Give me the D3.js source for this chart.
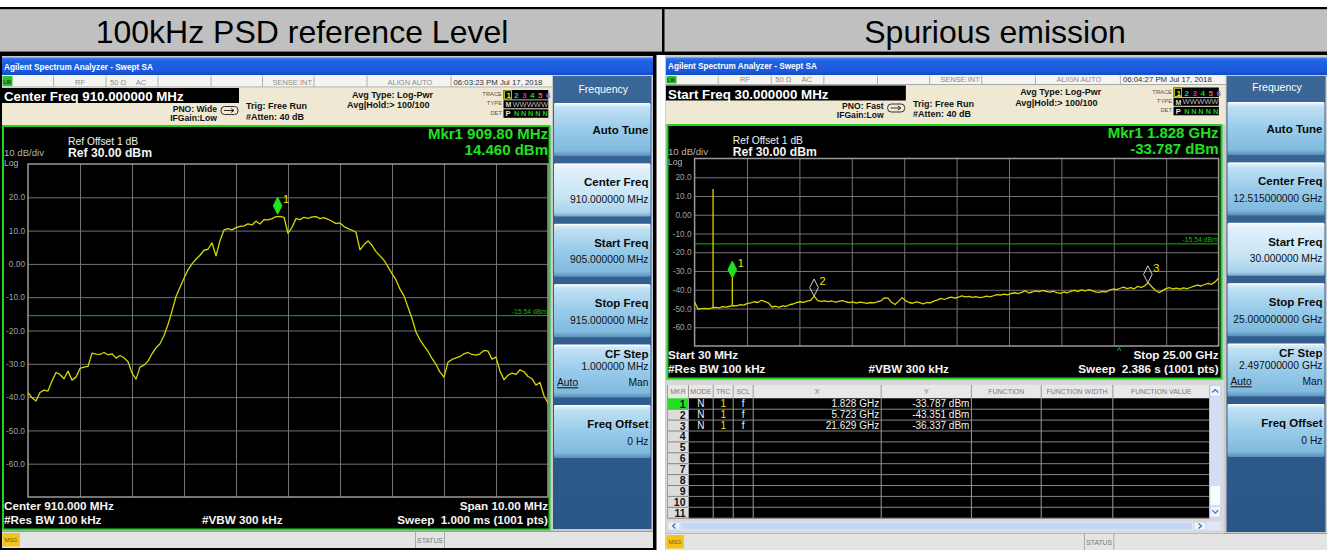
<!DOCTYPE html>
<html>
<head>
<meta charset="utf-8">
<script src="https://cdn.jsdelivr.net/npm/d3@7"></script>
<style>
  html, body { margin: 0; padding: 0; background: #fff; }
  svg { display: block; }
</style>
</head>
<body>
<svg id="chart" width="1327" height="550"></svg>
<script>
// ---------------- data ----------------
const panelTitles = ["100kHz PSD reference Level", "Spurious emission"];

const yTickValues = [20, 10, 0, -10, -20, -30, -40, -50, -60];
const yTickLabels = ["20.0", "10.0", "0.00", "-10.0", "-20.0", "-30.0", "-40.0", "-50.0", "-60.0"];
const refLevel = 30;
const bottomLevel = -70;
const displayLine = -15.54;

// 100 kHz PSD sweep, 905–915 MHz (evenly spaced trace points, dBm)
const psdStartMHz = 905, psdStopMHz = 915;
const psdTrace = [
  -38.7, -40.2, -41.2, -38.6, -37.9, -38.2, -35.2, -32.6, -33.2, -34.5,
  -32.2, -34.9, -34.0, -31.4, -31.0, -30.8, -26.8, -27.1, -27.2, -26.6,
  -27.3, -27.0, -28.3, -27.5, -28.2, -29.4, -32.8, -34.6, -31.0, -30.4,
  -29.2, -27.0, -25.2, -24.0, -21.5, -18.2, -14.2, -9.8, -7.0, -4.3,
  -1.8, 0.0, 1.4, 2.6, 4.1, 4.4, 6.3, 2.4, 7.0, 10.2,
  10.6, 10.2, 10.9, 11.3, 11.4, 12.0, 11.7, 12.8, 12.0, 13.3,
  13.2, 13.6, 14.2, 14.3, 14.0, 9.2, 11.0, 13.6, 13.3, 14.0,
  13.7, 14.1, 14.2, 13.6, 13.9, 13.4, 12.8, 12.1, 12.3, 11.2,
  10.6, 10.1, 9.5, 4.2, 5.8, 6.9, 5.6, 3.7, 2.4, 1.1,
  -0.9, -2.9, -4.8, -7.6, -9.6, -13.0, -16.4, -20.5, -22.8, -24.6,
  -26.3, -28.4, -30.2, -32.5, -34.0, -29.5, -28.7, -28.2, -27.8, -27.0,
  -26.6, -27.2, -27.4, -27.0, -26.0, -26.2, -28.6, -28.0, -32.2, -34.8,
  -33.4, -32.8, -33.2, -31.8, -32.4, -33.8, -34.5, -36.4, -35.6, -39.6,
  -41.8
];
const psdMarkerMHz = 909.80;
const psdMarkerLevel = 14.460;

// Spurious sweep, 30 MHz – 25 GHz (evenly spaced trace points, dBm)
const spurStartGHz = 0.03, spurStopGHz = 25;
const spurTrace = [
  -46.5, -50.4, -50.1, -49.9, -50.2, -49.6, -49.4, -49.7, -49.0, -49.3,
  -48.8, -48.5, -48.6, -47.9, -48.2, -47.3, -47.0, -46.4, -46.8, -45.6,
  -46.3, -47.0, -49.2, -48.8, -49.4, -48.6, -48.9, -48.0, -47.6, -46.9,
  -46.4, -46.7, -46.1, -45.7, -43.4, -45.8, -46.2, -45.9, -46.3, -46.0,
  -46.6, -46.2, -45.8, -46.4, -46.9, -46.5, -47.1, -46.6, -46.9, -47.3,
  -46.8, -47.0, -46.4, -45.9, -44.3, -44.5, -46.7, -47.9, -46.2, -44.2,
  -45.9, -46.8, -47.2, -46.5, -46.9, -47.5, -46.8, -47.0, -46.1, -45.5,
  -44.6, -45.2, -44.4, -43.9, -44.5, -44.0, -43.3, -43.8, -43.5, -44.1,
  -43.7, -44.2, -43.9, -43.4, -43.8, -43.2, -42.6, -42.9, -42.3, -42.7,
  -42.0, -41.6, -42.1, -41.4, -40.5, -41.7, -41.2, -40.6, -41.0, -40.4,
  -40.9, -41.3, -40.8, -41.5, -41.9, -41.2, -41.6, -40.7, -40.3, -40.9,
  -40.1, -40.6, -40.0, -40.5, -41.1, -41.4, -40.9, -41.2, -40.2, -39.6,
  -39.9, -39.2, -38.6, -39.4, -38.9, -39.5, -38.2, -38.8, -37.9, -36.3,
  -38.4, -40.3, -41.5, -40.6, -39.4, -38.9, -39.6, -39.1, -39.7, -39.0,
  -39.4, -38.8, -38.1, -37.5, -38.0, -37.2, -36.6, -37.1, -35.8, -33.8
];
// narrow spectral lines: carrier and 2nd harmonic
const spurSpikeGHz = [0.910, 1.828];
const spurSpikePeak = [13.7, -33.787];
const spurSpikeBase = [-49.5, -48.6];

const spurMarkerGHz = [1.828, 5.723, 21.629];
const spurMarkerLevel = [-33.787, -43.351, -36.337];

const softkeyTitles = ["Auto Tune", "Center Freq", "Start Freq", "Stop Freq", "CF Step", "Freq Offset"];
const psdSoftkeyValues = ["", "910.000000 MHz", "905.000000 MHz", "915.000000 MHz", "1.000000 MHz", "0 Hz"];
const spurSoftkeyValues = ["", "12.515000000 GHz", "30.000000 MHz", "25.000000000 GHz", "2.497000000 GHz", "0 Hz"];

const tableHeads = ["MKR", "MODE", "TRC", "SCL", "X", "Y", "FUNCTION", "FUNCTION WIDTH", "FUNCTION VALUE"];

// ---------------- helpers ----------------
const FONT = "'Liberation Sans', Arial, Helvetica, sans-serif";
const svg = d3.select("#chart");
const defs = svg.append("defs");

function vgrad(id, stops) {
  const gr = defs.append("linearGradient").attr("id", id)
    .attr("x1", 0).attr("y1", 0).attr("x2", 0).attr("y2", 1);
  stops.forEach(([o, c]) => gr.append("stop").attr("offset", o).attr("stop-color", c));
}
vgrad("titleBar", [[0, "#3f7ef2"], [0.2, "#2162e4"], [0.8, "#1a59dc"], [1, "#1049c6"]]);
vgrad("softkey", [[0, "#eaf5fc"], [0.1, "#bfe0f3"], [0.5, "#98cbea"], [0.9, "#80bade"], [1, "#5a8fb8"]]);
vgrad("softkeySel", [[0, "#f6fbfe"], [0.1, "#e0f0fa"], [0.6, "#c9e6f6"], [0.92, "#a9d2ec"], [1, "#7aa8c8"]]);
vgrad("skPanel", [[0, "#3a6698"], [1, "#2b5788"]]);

function txt(g, x, y, s, o = {}) {
  const t = g.append("text").attr("x", x).attr("y", y).text(s)
    .attr("font-family", FONT)
    .attr("font-size", o.size || 10)
    .attr("font-weight", o.bold ? "bold" : "normal")
    .attr("fill", o.fill || "#000")
    .attr("text-anchor", o.anchor || "start")
    .style("white-space", "pre");
  if (o.deco) t.attr("text-decoration", o.deco);
  if (o.len) t.attr("textLength", o.len).attr("lengthAdjust", "spacingAndGlyphs");
  return t;
}
function box(g, x, y, w, h, fill, o = {}) {
  const r = g.append("rect").attr("x", x).attr("y", y).attr("width", w).attr("height", h).attr("fill", fill);
  if (o.stroke) r.attr("stroke", o.stroke).attr("stroke-width", o.sw || 1);
  if (o.rx) r.attr("rx", o.rx);
  return r;
}
function hline(g, x0, x1, y, c, w = 1) {
  g.append("line").attr("x1", x0).attr("x2", x1).attr("y1", y).attr("y2", y).attr("stroke", c).attr("stroke-width", w);
}
function vline(g, x, y0, y1, c, w = 1) {
  g.append("line").attr("x1", x).attr("x2", x).attr("y1", y0).attr("y2", y1).attr("stroke", c).attr("stroke-width", w);
}

// ---------------- page heading row ----------------
box(svg, 0, 0, 1327, 550, "#fff");
box(svg, 0, 7, 1327, 2.5, "#000");
box(svg, 0, 9.5, 1327, 42, "#c0c0c0");
box(svg, 0, 51.5, 1327, 3.5, "#000");
box(svg, 662, 7, 2.5, 48, "#000");
txt(svg, 302, 43, panelTitles[0], { size: 32, anchor: "middle", fill: "#000" });
txt(svg, 995, 43, panelTitles[1], { size: 32, anchor: "middle", fill: "#000" });

// black frame around left analyzer screen
box(svg, 0, 55, 656.5, 495, "#000");

const TRACE_COLOR = "#d6d600";

function diamond(g, x, tipY, filled) {
  const w = 4.3, h = 17;
  g.append("path")
    .attr("d", `M${x},${tipY} L${x + w},${tipY - h / 2} L${x},${tipY - h} L${x - w},${tipY - h / 2} Z`)
    .attr("fill", filled ? "#22e022" : "none")
    .attr("stroke", filled ? "#22e022" : "#cfcfcf")
    .attr("stroke-width", 1);
}

// ---------------- one analyzer screen ----------------
function drawPanel(p) {
  const g = svg.append("g");
  const X = r => p.ox + r * p.sx;
  const dy = p.hdy;

  box(g, p.base.x0, p.base.y0, p.base.x1 - p.base.x0, p.base.y1 - p.base.y0, "#cbcbcb");

  // window title bar
  box(g, p.ox, 57.5, p.right - p.ox, 17.5, "url(#titleBar)");
  txt(g, X(2), 70 + dy * 0.5, "Agilent Spectrum Analyzer - Swept SA", { size: 8.2, bold: true, fill: "#fff" });

  // status row
  const srY0 = 75, srY1 = 87 + dy;
  box(g, p.ox, srY0, p.sk.x0 - 1 - p.ox, srY1 - srY0, "#f4f4f1");
  hline(g, p.ox, p.sk.x0 - 1, srY1, "#a8a8a8");
  [51.6, 104, 156, 209, 260.5, 312, 365, 449].forEach(c => vline(g, X(c), srY0 + 0.5, srY1, "#b0b0b0"));
  box(g, X(0.5), srY0 + 1, 10, srY1 - srY0 - 2, "#2fbf2f");
  txt(g, X(1.2), srY1 - 3, "LXI", { size: 5, bold: true, fill: "#0a3a0a" });
  const sy = 84.5 + dy;
  txt(g, X(78), sy, "RF", { size: 7.5, fill: "#8c8c8c", anchor: "middle" });
  txt(g, X(116), sy, "50 \u03A9", { size: 7.5, fill: "#8c8c8c", anchor: "middle" });
  txt(g, X(139), sy, "AC", { size: 7.5, fill: "#8c8c8c", anchor: "middle" });
  txt(g, X(310), sy, "SENSE:INT", { size: 7.5, fill: "#8c8c8c", anchor: "end" });
  txt(g, X(408), sy, "ALIGN AUTO", { size: 7.5, fill: "#8c8c8c", anchor: "middle" });
  txt(g, X(451.5), sy, p.time, { size: 7.8, fill: "#303030" });

  // settings header
  box(g, p.ox, srY1 + 0.5, p.sk.x0 - 1 - p.ox, p.plot.y0 - srY1 - 0.5, "#efe9d4");
  box(g, X(0), 88 + dy, X(237) - X(0), 15, "#000");
  txt(g, X(2), 101 + dy, p.activeFn, { size: 13.3, bold: true, fill: "#fff" });
  txt(g, X(215), 111.7 + dy, p.pno, { size: 8.6, bold: true, anchor: "end", fill: "#111" });
  txt(g, X(215), 120.7 + dy, "IFGain:Low", { size: 8.6, bold: true, anchor: "end", fill: "#111" });
  box(g, X(219), 106.5 + dy, 17, 8, "none", { stroke: "#333", sw: 1, rx: 3.5 });
  g.append("path").attr("d", `M${X(222)},${110.5 + dy} L${X(232)},${110.5 + dy} M${X(229)},${108.5 + dy} L${X(232)},${110.5 + dy} L${X(229)},${112.5 + dy}`)
    .attr("stroke", "#333").attr("fill", "none").attr("stroke-width", 1);
  txt(g, X(244), 109 + dy, "Trig: Free Run", { size: 9, bold: true, fill: "#111" });
  txt(g, X(244), 119.5 + dy, "#Atten: 40 dB", { size: 9, bold: true, fill: "#111" });
  txt(g, X(350), 97.7 + dy, "Avg Type: Log-Pwr", { size: 9, bold: true, fill: "#111" });
  txt(g, X(345), 108 + dy, "Avg|Hold:> 100/100", { size: 9, bold: true, fill: "#111" });

  // trace status block
  txt(g, X(500), 96 + dy, "TRACE", { size: 5.8, fill: "#555", anchor: "end" });
  txt(g, X(500), 105.4 + dy, "TYPE", { size: 5.8, fill: "#555", anchor: "end" });
  txt(g, X(500), 114.8 + dy, "DET", { size: 5.8, fill: "#555", anchor: "end" });
  box(g, X(501.5), 90 + dy, X(546.3) - X(501.5), 9.5, "#000");
  box(g, X(501.5), 100.3 + dy, X(546.3) - X(501.5), 8, "#000");
  box(g, X(501.5), 109.3 + dy, X(546.3) - X(501.5), 8.5, "#000");
  const trCols = ["#e8e800", "#19c8d8", "#d424d4", "#2fc02f", "#e85858", "#6262ff"];
  trCols.forEach((c, k) => txt(g, X(504.4 + k * 7.9), 98 + dy, String(k + 1), { size: 8, bold: true, fill: c }));
  box(g, X(502.6), 90.8 + dy, 7, 8.2, "none", { stroke: "#e8e800", sw: 0.8 });
  txt(g, X(503.4), 107 + dy, "M", { size: 7, bold: true, fill: "#d8d8d8" });
  txt(g, X(510.5), 106.6 + dy, "WWWWW", { size: 6.5, fill: "#b8b8b8", len: X(546) - X(510.5) });
  txt(g, X(503.6), 116.4 + dy, "P", { size: 7.5, bold: true, fill: "#e8e8e8" });
  [514, 521, 528, 535.3, 542.4].forEach(c => txt(g, X(c - 2), 116.4 + dy, "N", { size: 7.3, bold: true, fill: "#22c822" }));

  // measurement window
  box(g, p.plot.x0, p.plot.y0, p.plot.x1 - p.plot.x0, p.plot.y1 - p.plot.y0, "#000", { stroke: "#1fd41f", sw: 2 });
  txt(g, p.grat.x1, p.plot.y0 + 13.3, p.mkr1, { size: 15, bold: true, fill: "#22e022", anchor: "end" });
  txt(g, p.grat.x1, p.plot.y0 + 29, p.mkr2, { size: 15, bold: true, fill: "#22e022", anchor: "end" });
  txt(g, X(66), p.plot.y0 + 19.3, "Ref Offset 1 dB", { size: 10.3, fill: "#f0f0f0" });
  txt(g, X(66), p.plot.y0 + 30.5, "Ref 30.00 dBm", { size: 12.2, bold: true, fill: "#f4f4f4" });
  txt(g, X(2), p.plot.y0 + 29.8, "10 dB/div", { size: 9.6, fill: "#b4b4b4" });
  txt(g, X(2), p.plot.y0 + 40.4, "Log", { size: 8.6, fill: "#b4b4b4" });

  const gr = p.grat;
  const xScale = d3.scaleLinear().domain(p.xDomain).range([gr.x0, gr.x1]);
  const yScale = d3.scaleLinear().domain([bottomLevel, refLevel]).range([gr.y1, gr.y0]);
  const d0 = p.xDomain[0], d1 = p.xDomain[1];

  const xGrid = d3.axisBottom(xScale)
    .tickValues(d3.range(1, 10).map(k => d0 + k * (d1 - d0) / 10))
    .tickSize(-(gr.y1 - gr.y0)).tickFormat("");
  const gx = g.append("g").attr("transform", `translate(0,${gr.y1})`).call(xGrid);
  gx.select(".domain").remove();
  gx.selectAll("line").attr("stroke", "#737373").attr("stroke-width", 1);

  const yAxis = d3.axisLeft(yScale)
    .tickValues(yTickValues)
    .tickFormat((d, i) => yTickLabels[i])
    .tickSize(-(gr.x1 - gr.x0)).tickPadding(3);
  const gy = g.append("g").attr("transform", `translate(${gr.x0},0)`).call(yAxis);
  gy.select(".domain").remove();
  gy.selectAll("line").attr("stroke", "#737373").attr("stroke-width", 1);
  gy.selectAll("text").attr("fill", "#a2a2a2").attr("font-size", 8.3).attr("font-family", FONT);

  box(g, gr.x0, gr.y0, gr.x1 - gr.x0, gr.y1 - gr.y0, "none", { stroke: "#9a9a9a", sw: 1.5 });

  // display line
  const dlY = yScale(displayLine);
  hline(g, gr.x0, gr.x1, dlY, "#10b410", 1);
  txt(g, gr.x1 - 1, dlY - 2, `${displayLine.toFixed(2)} dBm`, { size: 6.8, fill: "#14b814", anchor: "end" });

  // trace
  const clipId = "clip" + p.id;
  defs.append("clipPath").attr("id", clipId).append("rect")
    .attr("x", gr.x0).attr("y", gr.y0 - 1).attr("width", gr.x1 - gr.x0).attr("height", gr.y1 - gr.y0 + 1);
  const n = p.trace.length;
  const line = d3.line()
    .x((d, i) => xScale(d0 + i * (d1 - d0) / (n - 1)))
    .y(d => yScale(d));
  const tg = g.append("g").attr("clip-path", `url(#${clipId})`);
  tg.append("path").datum(p.trace).attr("d", line)
    .attr("fill", "none").attr("stroke", TRACE_COLOR).attr("stroke-width", 1.3).attr("stroke-linejoin", "round");
  if (p.spikes) {
    p.spikes.freq.forEach((f, i) => {
      tg.append("line")
        .attr("x1", xScale(f)).attr("x2", xScale(f))
        .attr("y1", yScale(p.spikes.base[i])).attr("y2", yScale(p.spikes.peak[i]))
        .attr("stroke", TRACE_COLOR).attr("stroke-width", 1.3);
    });
  }

  // markers
  p.markers.freq.forEach((f, i) => {
    const mx = xScale(f), my = yScale(p.markers.level[i]) - (p.markers.lift || 0);
    diamond(g, mx, my, i === 0);
    txt(g, mx + 5.5, my - 11, String(i + 1), { size: 11, fill: "#e6e600" });
  });

  // bottom annotation
  txt(g, X(2), gr.y1 + 12.5, p.startLabel, { size: 11.7, bold: true, fill: "#f4f4f4" });
  txt(g, X(2), gr.y1 + 26.5, "#Res BW 100 kHz", { size: 11.7, bold: true, fill: "#f4f4f4" });
  txt(g, X(200), gr.y1 + 26.5, "#VBW 300 kHz", { size: 11.7, bold: true, fill: "#f4f4f4" });
  txt(g, gr.x1, gr.y1 + 12.5, p.stopLabel, { size: 11.7, bold: true, fill: "#f4f4f4", anchor: "end" });
  txt(g, gr.x1, gr.y1 + 26.5, p.sweep, { size: 11.7, bold: true, fill: "#f4f4f4", anchor: "end" });
  if (p.caretX) txt(g, p.caretX, gr.y1 + 8, "^", { size: 9, fill: "#22d822", anchor: "middle" });

  // softkey menu
  const sk = p.sk;
  box(g, sk.x0, 76, sk.x1 - sk.x0, sk.y1 - 76, "url(#skPanel)");
  txt(g, (sk.x0 + sk.x1) / 2 + 1, 92.5 + dy * 0.6, "Frequency", { size: 10.5, fill: "#fff", anchor: "middle" });
  softkeyTitles.forEach((title, i) => {
    const top = 103 + i * 60.4 + dy * 0.4, h = 53;
    box(g, sk.x0 + 1, top, sk.x1 - sk.x0 - 2, h, i === p.selKey ? "url(#softkeySel)" : "url(#softkey)", { rx: 1.5 });
    hline(g, sk.x0 + 1.5, sk.x1 - 1.5, top + 0.8, "#ffffff", 1);
    const rx = sk.x1 - 3;
    const val = p.skValues[i];
    if (!val) {
      txt(g, rx, top + 31, title, { size: 11.5, bold: true, fill: "#0a0a0a", anchor: "end" });
    } else if (title === "CF Step") {
      txt(g, rx, top + 13.5, title, { size: 11.5, bold: true, fill: "#0a0a0a", anchor: "end" });
      txt(g, rx, top + 25.2, val, { size: 10.3, fill: "#111", anchor: "end" });
      txt(g, sk.x0 + 4, top + 41.7, "Auto", { size: 10.3, fill: "#111", deco: "underline" });
      txt(g, rx, top + 41.7, "Man", { size: 10.3, fill: "#111", anchor: "end" });
    } else {
      txt(g, rx, top + 23, title, { size: 11.5, bold: true, fill: "#0a0a0a", anchor: "end" });
      txt(g, rx, top + 39.6, val, { size: 10.3, fill: "#111", anchor: "end" });
    }
  });

  // message/status bar
  const st = p.status;
  box(g, p.ox, st.y0, st.x1 - p.ox, st.y1 - st.y0, "#e4e4e4");
  hline(g, p.ox, st.x1, st.y0, "#9c9c9c");
  box(g, X(0.3), st.y0 + 1.5, 17.5, st.y1 - st.y0 - 3, "#f2c41a");
  txt(g, X(0.3) + 8.7, st.y0 + 10.5, "MSG", { size: 5.8, fill: "#7a5800", anchor: "middle" });
  vline(g, X(413.5), st.y0, st.y1, "#a8a8a8");
  vline(g, X(442.5), st.y0, st.y1, "#a8a8a8");
  txt(g, X(428), st.y0 + 11, "STATUS", { size: 6.8, fill: "#777", anchor: "middle" });

  return { g, xScale, yScale };
}

// ---------------- marker table (spurious screen) ----------------
function drawMarkerTable(g) {
  const cols = [667.5, 688.5, 713.2, 733.2, 753.2, 881.2, 971.4, 1041.2, 1112.8, 1209.5];
  const tx1 = 1221, hy0 = 385, hy1 = 398.3, rowH = 10.9, nRows = 11;
  const by1 = hy1 + nRows * rowH;
  box(g, 666, 380.5, 1224 - 666, 153, "#d8d8d8");
  box(g, cols[0], hy0, cols[9] - cols[0], hy1 - hy0, "#e8e8e8");
  tableHeads.forEach((h, i) => txt(g, (cols[i] + cols[i + 1]) / 2, hy0 + 9.3, h, { size: 7, fill: "#7a7a7a", anchor: "middle" }));
  box(g, cols[1], hy1, cols[9] - cols[1], by1 - hy1, "#000");
  box(g, cols[0], hy1, cols[1] - cols[0], by1 - hy1, "#dcdcdc");
  box(g, cols[0], hy1, cols[1] - cols[0], rowH, "#22e022");
  for (let r = 0; r < nRows; r++) {
    const y0 = hy1 + r * rowH;
    txt(g, cols[1] - 3, y0 + 9.4, String(r + 1), { size: 10.5, bold: true, fill: "#111", anchor: "end" });
    hline(g, cols[0], cols[9], y0 + rowH, "#858585", 1);
  }
  cols.forEach(c => vline(g, c, hy0, by1, "#9a9a9a", 1));
  spurMarkerGHz.forEach((f, i) => {
    const y0 = hy1 + i * rowH + 9;
    txt(g, (cols[1] + cols[2]) / 2, y0, "N", { size: 10, fill: "#f2f2f2", anchor: "middle" });
    txt(g, (cols[2] + cols[3]) / 2, y0, "1", { size: 10, fill: "#e6e600", anchor: "middle" });
    txt(g, (cols[3] + cols[4]) / 2, y0, "f", { size: 10, fill: "#f2f2f2", anchor: "middle" });
    txt(g, cols[5] - 2, y0, `${f.toFixed(3)} GHz`, { size: 10, fill: "#f2f2f2", anchor: "end" });
    txt(g, cols[6] - 2, y0, `${spurMarkerLevel[i].toFixed(3)} dBm`, { size: 10, fill: "#f2f2f2", anchor: "end" });
  });
  // vertical scrollbar
  box(g, cols[9], hy0, tx1 - cols[9], by1 - hy0, "#d3ddf3");
  box(g, cols[9] + 0.5, hy0 + 0.5, tx1 - cols[9] - 1, 11, "#eef3fc", { stroke: "#b8c6e6", sw: 0.6 });
  box(g, cols[9] + 0.5, by1 - 12, tx1 - cols[9] - 1, 11, "#eef3fc", { stroke: "#b8c6e6", sw: 0.6 });
  box(g, cols[9] + 1, by1 - 32, tx1 - cols[9] - 2, 19, "#fbfcff");
  const cx = (cols[9] + tx1) / 2;
  g.append("path").attr("d", `M${cx - 3},${hy0 + 7.5} L${cx},${hy0 + 4.5} L${cx + 3},${hy0 + 7.5}`).attr("stroke", "#4a6aa8").attr("fill", "none").attr("stroke-width", 1.2);
  g.append("path").attr("d", `M${cx - 3},${by1 - 8} L${cx},${by1 - 5} L${cx + 3},${by1 - 8}`).attr("stroke", "#4a6aa8").attr("fill", "none").attr("stroke-width", 1.2);
  // horizontal scrollbar
  const sy0 = 521.5, sy1 = 530.5;
  box(g, cols[0], sy0, tx1 - cols[0], sy1 - sy0, "#dfe7f8");
  box(g, cols[0] + 0.5, sy0 + 0.5, 12, sy1 - sy0 - 1, "#eef3fc", { stroke: "#b8c6e6", sw: 0.6 });
  box(g, 1194, sy0 + 0.5, 12, sy1 - sy0 - 1, "#eef3fc", { stroke: "#b8c6e6", sw: 0.6 });
  box(g, cols[0] + 14, sy0 + 1, 1192 - cols[0] - 14, sy1 - sy0 - 2, "#c6d7f5", { rx: 2 });
  g.append("path").attr("d", `M${cols[0] + 8},${sy0 + 2} L${cols[0] + 5},${sy0 + 4.5} L${cols[0] + 8},${sy0 + 7}`).attr("stroke", "#4a6aa8").attr("fill", "none").attr("stroke-width", 1.2);
  g.append("path").attr("d", `M${1198.5},${sy0 + 2} L${1201.5},${sy0 + 4.5} L${1198.5},${sy0 + 7}`).attr("stroke", "#4a6aa8").attr("fill", "none").attr("stroke-width", 1.2);
}

// ---------------- draw both screens ----------------
const psdCenter = (psdStartMHz + psdStopMHz) / 2;
const psdSpan = psdStopMHz - psdStartMHz;

drawPanel({
  id: "psd", ox: 2, sx: 1, right: 653, hdy: 0,
  base: { x0: 2, y0: 56, x1: 653, y1: 548 },
  activeFn: "Center Freq 910.000000 MHz", pno: "PNO: Wide", time: "06:03:23 PM Jul 17, 2018",
  mkr1: `Mkr1 ${psdMarkerMHz.toFixed(2)} MHz`, mkr2: `${psdMarkerLevel.toFixed(3)} dBm`,
  plot: { x0: 3, x1: 549.5, y0: 126, y1: 529.5 },
  grat: { x0: 28, x1: 548, y0: 164, y1: 497 },
  xDomain: [psdStartMHz, psdStopMHz], trace: psdTrace,
  markers: { freq: [psdMarkerMHz], level: [psdMarkerLevel], lift: 1.5 },
  startLabel: `Center ${psdCenter.toFixed(3)} MHz`, stopLabel: `Span ${psdSpan.toFixed(2)} MHz`,
  sweep: "Sweep  1.000 ms (1001 pts)",
  sk: { x0: 553, x1: 651.5, y1: 529 }, skValues: psdSoftkeyValues, selKey: 1,
  status: { y0: 531.5, y1: 548, x1: 653 }
});

const spur = drawPanel({
  id: "spur", ox: 666, sx: 1.012, right: 1327, hdy: -2.5,
  base: { x0: 665, y0: 55, x1: 1327, y1: 550 },
  activeFn: "Start Freq 30.000000 MHz", pno: "PNO: Fast", time: "06:04:27 PM Jul 17, 2018",
  mkr1: `Mkr1 ${spurMarkerGHz[0].toFixed(3)} GHz`, mkr2: `${spurMarkerLevel[0].toFixed(3)} dBm`,
  plot: { x0: 667.5, x1: 1221.5, y0: 125, y1: 378.5 },
  grat: { x0: 694.6, x1: 1218.6, y0: 158.5, y1: 346 },
  xDomain: [spurStartGHz, spurStopGHz], trace: spurTrace,
  spikes: { freq: spurSpikeGHz, base: spurSpikeBase, peak: spurSpikePeak },
  markers: { freq: spurMarkerGHz, level: spurMarkerLevel, lift: 0 },
  startLabel: `Start ${(spurStartGHz * 1000).toFixed(0)} MHz`, stopLabel: `Stop ${spurStopGHz.toFixed(2)} GHz`,
  sweep: "Sweep  2.386 s (1001 pts)", caretX: 1119,
  sk: { x0: 1226.5, x1: 1325.5, y1: 532 }, skValues: spurSoftkeyValues, selKey: 2,
  status: { y0: 533.5, y1: 550, x1: 1327 }
});
drawMarkerTable(spur.g);
</script>
</body>
</html>
